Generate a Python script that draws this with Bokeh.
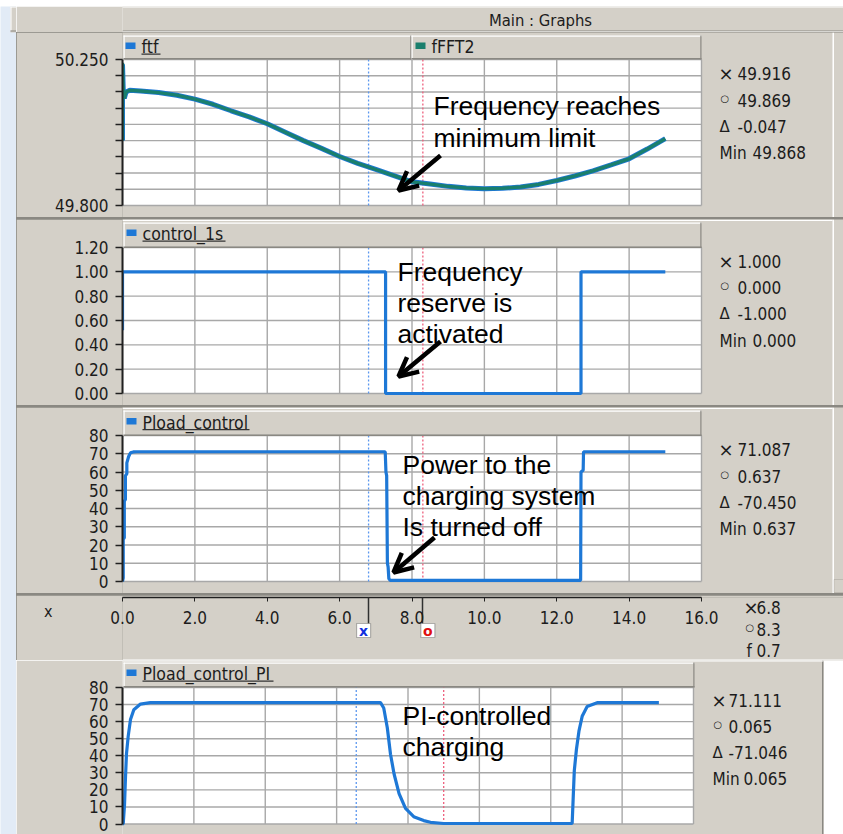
from bokeh.plotting import figure
from bokeh.layouts import column, row
from bokeh.models import (Range1d, FixedTicker, Label, BoxAnnotation, Arrow, OpenHead,
                          PrintfTickFormatter)
from bokeh.embed import file_html
from bokeh.resources import INLINE

# ---------------- data ----------------
x_ticks = [0.0, 2.0, 4.0, 6.0, 8.0, 10.0, 12.0, 14.0, 16.0]

t_freq = [0.0, 0.0, 0.02, 0.05, 0.1, 0.2, 0.5, 1.0, 1.5, 2.0, 2.5, 3.0, 3.5, 4.0, 4.5,
          5.0, 5.5, 6.0, 6.5, 7.0, 7.5, 8.0, 8.5, 9.0, 9.5, 10.0, 10.5, 11.0, 11.5,
          12.0, 12.5, 13.0, 13.5, 14.0, 14.5, 15.0]
ftf = [50.00, 50.235, 50.16, 50.13, 50.15, 50.155, 50.153, 50.148, 50.140, 50.128,
       50.112, 50.092, 50.073, 50.052, 50.026, 50.000, 49.976, 49.951, 49.930, 49.911,
       49.892, 49.873, 49.866, 49.859, 49.854, 49.852, 49.853, 49.857, 49.865, 49.877,
       49.891, 49.907, 49.925, 49.944, 49.974, 50.006]
fFFT2 = [50.00, 50.24, 50.16, 50.13, 50.15, 50.155, 50.153, 50.148, 50.140, 50.128,
         50.112, 50.092, 50.073, 50.052, 50.026, 50.000, 49.976, 49.951, 49.930, 49.911,
         49.892, 49.873, 49.866, 49.859, 49.854, 49.852, 49.853, 49.857, 49.865, 49.877,
         49.891, 49.907, 49.925, 49.944, 49.974, 50.006]
freq_major = [49.80, 50.25]
freq_minor = [49.85, 49.90, 49.95, 50.00, 50.05, 50.10, 50.15, 50.20]

t_ctrl = [0.0, 0.0, 7.27, 7.27, 12.67, 12.67, 15.0]
control_1s = [0.52, 1.0, 1.0, 0.0, 0.0, 1.0, 1.0]
ctrl_ticks = [0.0, 0.2, 0.4, 0.6, 0.8, 1.0, 1.2]

t_pload = [0.0, 0.02, 0.02, 0.05, 0.05, 0.08, 0.08, 0.12, 0.12, 0.17, 0.22, 0.3, 0.4,
           7.26, 7.28, 7.30, 7.32, 7.34, 7.36, 7.40, 12.66, 12.67, 12.73, 12.74, 15.0]
pload_control = [0.0, 2.0, 23.0, 24.0, 44.0, 45.0, 58.0, 59.0, 65.0, 68.5, 70.5, 71.0,
                 71.1, 71.1, 60.0, 58.0, 10.0, 8.0, 1.5, 0.64, 0.64, 60.0, 61.0, 71.1, 71.1]
p_ticks = [0, 10, 20, 30, 40, 50, 60, 70, 80]

t_pi = [0.0, 0.02, 0.056, 0.084, 0.112, 0.16, 0.224, 0.317, 0.504, 0.78, 7.23, 7.32,
        7.42, 7.51, 7.61, 7.75, 7.93, 8.16, 8.44, 8.63, 9.0, 12.6, 12.63, 12.66, 12.72,
        12.79, 12.88, 13.02, 13.3, 15.03]
pload_control_pi = [0.0, 0.0, 11.0, 27.4, 41.3, 51.5, 61.2, 67.0, 70.3, 71.1, 71.1, 68.0,
                    56.4, 40.9, 29.3, 17.8, 9.1, 4.3, 2.0, 1.0, 0.3, 0.3, 15.9, 31.3,
                    43.8, 54.4, 63.1, 68.9, 71.1, 71.1]

cursors = [6.8, 8.3]
cursors_pi = [6.55, 9.0]

info_freq = ["49.916", "49.869", "-0.047", "49.868"]
info_ctrl = ["1.000", "0.000", "-1.000", "0.000"]
info_pload = ["71.087", "0.637", "-70.450", "0.637"]
info_pi = ["71.111", "0.065", "-71.046", "0.065"]
info_x = ["6.8", "8.3", "0.7"]

# ---------------- styles ----------------
GRAY = "#d4d0c8"
PAGE_BG = "#e2ebf6"
DARK = "#8a8882"
GRID = "#a8a8a8"
BLUE = "#1e78d6"
TEAL = "#1a7f6d"
CUR_BLUE = "#5b97ef"
CUR_RED = "#ee5f7d"
TXT = "#1c1c1c"
FONT = "DejaVu Sans Condensed, DejaVu Sans"
ANN_FONT = "Liberation Sans"


def sbox(p, fl, fb, x0, y0, x1, y1, color, line=None):
    p.add_layout(BoxAnnotation(left=x0 - fl, right=x1 - fl, top=fb - y0, bottom=fb - y1,
                               left_units="screen", right_units="screen",
                               top_units="screen", bottom_units="screen",
                               fill_color=color, fill_alpha=1.0, line_color=line))


def stext(p, fl, fb, x, y, s, size, color=TXT, font=FONT, align="left",
          baseline="middle", style="normal"):
    p.add_layout(Label(x=x - fl, y=fb - y, x_units="screen", y_units="screen", text=s,
                       text_font=font, text_font_size=f"{size}px", text_color=color,
                       text_align=align, text_baseline=baseline, text_font_style=style))


def sarrow(p, fl, fb, x0, y0, x1, y1):
    p.add_layout(Arrow(x_start=x0 - fl, y_start=fb - y0, x_end=x1 - fl, y_end=fb - y1,
                       start_units="screen", end_units="screen", line_width=4.5,
                       line_color="black",
                       end=OpenHead(size=19, line_width=4.5, line_color="black")))


def info(p, fl, fb, xs, xv, xm, ys, vals):
    stext(p, fl, fb, xs - 1, ys[0], "×", 18, font="DejaVu Sans")
    stext(p, fl, fb, xs + 1, ys[1] - 2, "○", 10, font="DejaVu Sans")
    stext(p, fl, fb, xs, ys[2], "Δ", 15, font="DejaVu Sans")
    stext(p, fl, fb, xs, ys[3], "Min", 17)
    stext(p, fl, fb, xv, ys[0], vals[0], 17)
    stext(p, fl, fb, xv, ys[1], vals[1], 17)
    stext(p, fl, fb, xv, ys[2], vals[2], 17)
    stext(p, fl, fb, xm, ys[3], vals[3], 17)


def tab(p, fl, fb, x0, x1, y0, y1):
    sbox(p, fl, fb, x0, y0, x1, y0 + 1.2, "white")
    sbox(p, fl, fb, x0, y0, x0 + 1.2, y1, "white")
    sbox(p, fl, fb, x1 - 1.2, y0, x1, y1, DARK)
    sbox(p, fl, fb, x0, y1 - 1.5, x1, y1, DARK)


def legend_item(p, fl, fb, x, y, color, label, underline_to=None):
    sbox(p, fl, fb, x, y - 3.5, x + 10, y + 3, color)
    stext(p, fl, fb, x + 16, y + 1, label, 17.5)
    if underline_to is not None:
        sbox(p, fl, fb, x + 16, y + 7.5, underline_to, y + 8.7, "#333333")


def chrome(w, h, bg, x_range=None):
    p = figure(width=w, height=h, x_range=x_range if x_range is not None else Range1d(0, 1),
               y_range=Range1d(0, 1), x_axis_location=None, y_axis_location=None,
               output_backend="svg", toolbar_location=None, min_border_left=0,
               min_border_right=0, min_border_top=0, min_border_bottom=0)
    p.background_fill_color = bg
    p.border_fill_color = bg
    p.outline_line_color = None
    p.grid.grid_line_color = None
    return p


def panel(height, ftop, fbot, vb, vt, yb_px, yt_px, x16_px, ticks, minor, fmt, curs):
    ppu = (yb_px - yt_px) / (vt - vb)
    y_rng = Range1d(vb - (fbot - yb_px) / ppu, vt + (yt_px - ftop) / ppu)
    x_end = x_ticks[-1] * (843 - 122) / (x16_px - 122)
    p = figure(width=827, height=height, x_range=Range1d(0, x_end), y_range=y_rng,
               x_axis_location=None, output_backend="svg", toolbar_location=None,
               min_border_left=106, min_border_right=0, min_border_top=0,
               min_border_bottom=0)
    p.background_fill_color = GRAY
    p.border_fill_color = GRAY
    p.outline_line_color = None
    p.grid.grid_line_color = None
    ax = p.yaxis[0]
    ax.bounds = (vb, vt)
    ax.ticker = FixedTicker(ticks=ticks, minor_ticks=minor)
    ax.formatter = PrintfTickFormatter(format=fmt)
    ax.axis_line_color = "#202020"
    ax.axis_line_width = 2
    ax.major_tick_out = 7
    ax.major_tick_in = 0
    ax.minor_tick_out = 7
    ax.minor_tick_in = 0
    ax.major_tick_line_color = "#202020"
    ax.minor_tick_line_color = "#202020"
    ax.major_tick_line_width = 1.3
    ax.minor_tick_line_width = 1.3
    ax.major_label_text_font = FONT
    ax.major_label_text_font_size = "17px"
    ax.major_label_text_color = TXT
    ax.major_label_standoff = 7
    # plot area, grid and cursors
    p.add_layout(BoxAnnotation(left=x_ticks[0], right=x_ticks[-1], bottom=vb, top=vt,
                               fill_color="white", fill_alpha=1.0, line_color=None,
                               level="underlay"))
    gy = list(ticks) + list(minor)
    p.segment(x0=x_ticks, y0=vb, x1=x_ticks, y1=vt, line_color=GRID, line_width=1.4)
    p.segment(x0=x_ticks[0], y0=gy, x1=x_ticks[-1], y1=gy, line_color=GRID, line_width=1.4)
    p.segment(x0=curs[:1], y0=vb, x1=curs[:1], y1=vt, line_color=CUR_BLUE,
              line_dash="2 2", line_width=1.3)
    p.segment(x0=curs[1:], y0=vb, x1=curs[1:], y1=vt, line_color=CUR_RED,
              line_dash="2 2", line_width=1.3)
    return p


# ---------------- top strip, left strip, title bar ----------------
T0 = chrome(843, 6, PAGE_BG)
LS = chrome(16, 828, PAGE_BG)
sbox(LS, 0, 834, 10, 6, 16, 32, GRAY)
sbox(LS, 0, 834, 10, 6, 16, 7, "white")
sbox(LS, 0, 834, 10, 6, 11, 30, "white")
sbox(LS, 0, 834, 10, 30, 16, 31, DARK)

TB = chrome(827, 26, GRAY)
fl, fb = 16, 32
sbox(TB, fl, fb, 16, 6, 843, 7, "white")
sbox(TB, fl, fb, 16, 30, 843, 31, DARK)
sbox(TB, fl, fb, 16, 31, 843, 32, "white")
stext(TB, fl, fb, 434, 19.5, "Main : Graphs", 16.5, align="center")
sbox(TB, fl, fb, 833.5, 20, 843, 31, GRAY, line=DARK)

# ---------------- panel 1: frequency ----------------
F1 = panel(185, 32, 217, freq_major[0], freq_major[1], 205, 59, 701,
           freq_major, freq_minor, "%.3f", cursors)
F1.line(t_freq, ftf, line_color=BLUE, line_width=5)
F1.line(t_freq, fFFT2, line_color=TEAL, line_width=3.4)
fl, fb = 122, 217
tab(F1, fl, fb, 123, 411, 35, 59)
tab(F1, fl, fb, 411, 701, 35, 59)
legend_item(F1, fl, fb, 125, 45.5, BLUE, "ftf", underline_to=160)
legend_item(F1, fl, fb, 415, 45.5, TEAL, "fFFT2")
info(F1, fl, fb, 719, 737, 752, [73, 100, 126, 152], info_freq)
stext(F1, fl, fb, 433, 105.5, "Frequency reaches", 26.5, color="black", font=ANN_FONT,
      baseline="alphabetic")
stext(F1, fl, fb, 433, 137, "minimum limit", 26.5, color="black", font=ANN_FONT,
      baseline="alphabetic")
sarrow(F1, fl, fb, 440, 155, 398, 190)
sbox(F1, fl, fb, 832, 32, 833.5, 217, "white")

# ---------------- panel 2: control_1s ----------------
F2 = panel(186, 219, 405, ctrl_ticks[0], ctrl_ticks[-1], 393, 247, 701,
           ctrl_ticks, [], "%.2f", cursors)
F2.line(t_ctrl, control_1s, line_color=BLUE, line_width=3.2)
fl, fb = 122, 405
sbox(F2, fl, fb, 122, 219, 832, 220.5, "white")
tab(F2, fl, fb, 123, 701, 222, 247.5)
legend_item(F2, fl, fb, 126, 232.5, BLUE, "control_1s", underline_to=225)
info(F2, fl, fb, 719, 737, 752, [261, 287, 313, 340], info_ctrl)
for yb, s in zip([271.5, 302.5, 333.5], ["Frequency", "reserve is", "activated"]):
    stext(F2, fl, fb, 397, yb, s, 26.5, color="black", font=ANN_FONT,
          baseline="alphabetic")
sarrow(F2, fl, fb, 440, 341, 398, 376)
sbox(F2, fl, fb, 832, 219, 833.5, 405, "white")

# ---------------- panel 3: Pload_control ----------------
F3 = panel(186, 407, 593, p_ticks[0], p_ticks[-1], 581, 435, 701,
           p_ticks, [], "%d", cursors)
F3.line(t_pload, pload_control, line_color=BLUE, line_width=3.2)
fl, fb = 122, 593
sbox(F3, fl, fb, 122, 407, 832, 408.5, "white")
tab(F3, fl, fb, 123, 701, 410, 435.5)
legend_item(F3, fl, fb, 126, 421, BLUE, "Pload_control", underline_to=249)
info(F3, fl, fb, 719, 737, 752, [449, 476, 502, 528], info_pload)
for yb, s in zip([464, 495, 526.5], ["Power to the", "charging system", "Is turned off"]):
    stext(F3, fl, fb, 402, yb, s, 26.5, color="black", font=ANN_FONT,
          baseline="alphabetic")
sarrow(F3, fl, fb, 434, 537, 393, 572)
sbox(F3, fl, fb, 832, 407, 833.5, 593, "white")
sbox(F3, fl, fb, 833.5, 579, 843, 592, GRAY, line=DARK)

# ---------------- x axis strip (axis on top edge of its frame) ----------------
PXU = (701 - 122) / x_ticks[-1]
X_LABEL_POS = [(660 - 611) / 63]
F4 = figure(width=827, height=65,
            x_range=Range1d(x_ticks[0], x_ticks[-1] + (843 - 701) / PXU),
            y_range=Range1d(0, 1), y_axis_location="left", x_axis_location="above",
            output_backend="svg", toolbar_location=None, min_border_left=106,
            min_border_right=0, min_border_top=2, min_border_bottom=0)
F4.background_fill_color = GRAY
F4.border_fill_color = GRAY
F4.outline_line_color = None
F4.grid.grid_line_color = None
xa = F4.xaxis[0]
xa.bounds = (x_ticks[0], x_ticks[-1])
xa.ticker = FixedTicker(ticks=x_ticks, minor_ticks=cursors)
xa.formatter = PrintfTickFormatter(format="%.1f")
xa.axis_line_color = "#202020"
xa.axis_line_width = 1.5
xa.major_tick_out = 0
xa.major_tick_in = 4
xa.major_tick_line_color = "#202020"
xa.minor_tick_out = 0
xa.minor_tick_in = 26
xa.minor_tick_line_color = "#303030"
xa.minor_tick_line_width = 1.5
xa.major_label_text_font = FONT
xa.major_label_text_font_size = "17px"
xa.major_label_text_color = TXT
xa.major_label_standoff = -26
# the "x" caption at the far left of the strip, drawn as the strip's y-axis label
ya = F4.yaxis[0]
ya.ticker = FixedTicker(ticks=X_LABEL_POS)
ya.formatter = PrintfTickFormatter(format="x")
ya.axis_line_color = None
ya.major_tick_out = 0
ya.major_tick_in = 0
ya.minor_tick_out = 0
ya.minor_tick_in = 0
ya.major_label_text_font = FONT
ya.major_label_text_font_size = "16px"
ya.major_label_text_color = TXT
ya.major_label_standoff = 70
fl, fb = 122, 660
for c, col, letter, d0, d1 in zip(cursors, ["#1030e0", "#e01010"], ["x", "o"],
                                 [-12, -2], [2, 12]):
    F4.add_layout(BoxAnnotation(left=c + d0 / PXU, right=c + d1 / PXU, top=fb - 623,
                                bottom=fb - 637, top_units="screen", bottom_units="screen",
                                fill_color="white", fill_alpha=1.0, line_color="#202020",
                                line_width=1.2))
    F4.add_layout(Label(x=c + (d0 + d1) / 2 / PXU, y=fb - 630, y_units="screen",
                        text=letter, text_color=col, text_font="DejaVu Sans",
                        text_font_size="14px", text_font_style="bold", text_align="center",
                        text_baseline="middle"))
stext(F4, fl, fb, 743, 607, "×", 18, font="DejaVu Sans")
stext(F4, fl, fb, 756, 607, info_x[0], 17)
stext(F4, fl, fb, 745, 627, "○", 10, font="DejaVu Sans")
stext(F4, fl, fb, 756, 629, info_x[1], 17)
stext(F4, fl, fb, 746, 650, "f", 17)
stext(F4, fl, fb, 756, 650, info_x[2], 17)
sbox(F4, fl, fb, 122, 659, 843, 660, "white")

# ---------------- panel 4: Pload_control_PI ----------------
F5 = panel(174, 660, 834, p_ticks[0], p_ticks[-1], 823.5, 687, 693,
           p_ticks, [], "%d", cursors_pi)
F5.line(t_pi, pload_control_pi, line_color=BLUE, line_width=3.2)
fl, fb = 122, 834
sbox(F5, fl, fb, 823, 660, 843, 834, "white")
sbox(F5, fl, fb, 821.5, 660, 823, 834, DARK)
sbox(F5, fl, fb, 122, 660, 823, 661, "white")
tab(F5, fl, fb, 123, 694, 662, 687)
legend_item(F5, fl, fb, 126, 672.5, BLUE, "Pload_control_PI", underline_to=273)
info(F5, fl, fb, 712, 728, 743, [700, 726, 752, 778], info_pi)
for yb, s in zip([715, 746.5], ["PI-controlled", "charging"]):
    stext(F5, fl, fb, 402, yb, s, 26.5, color="black", font=ANN_FONT,
          baseline="alphabetic")

# ---------------- layout ----------------
mid = column(F1, F2, F3, F4, spacing=2, styles={"background-color": DARK})
right = column(TB, mid, F5)
root = column(T0, row(LS, right))
open("out.html", "w").write(file_html(root, INLINE))
